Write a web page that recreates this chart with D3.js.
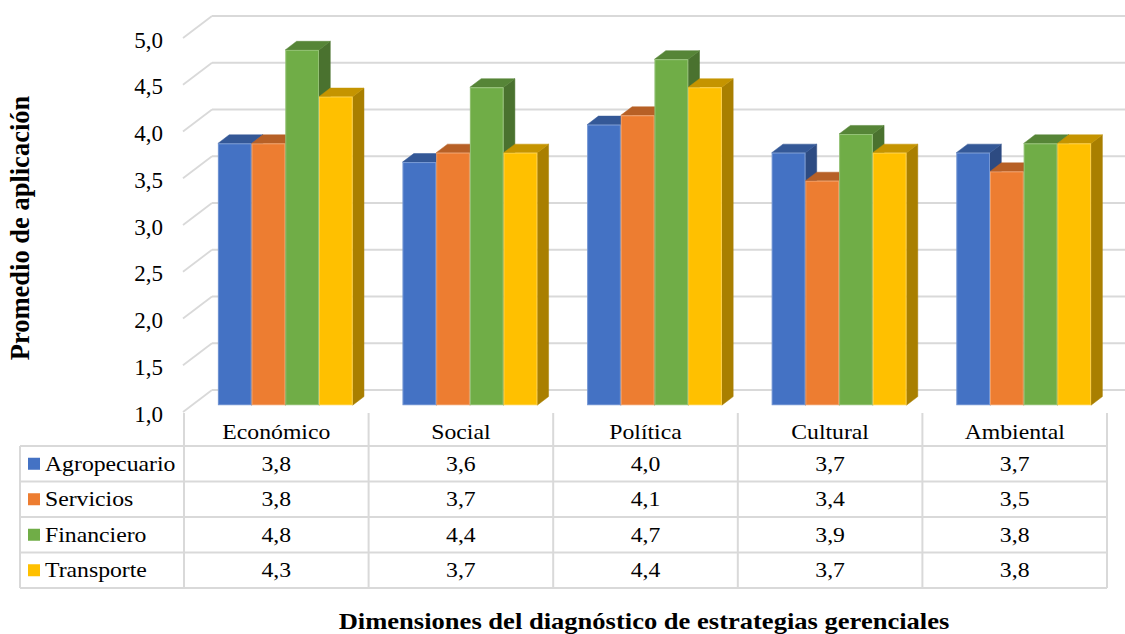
<!DOCTYPE html>
<html>
<head>
<meta charset="utf-8">
<script src="https://cdn.jsdelivr.net/npm/d3@7/dist/d3.min.js"></script>
<style>
  html, body { margin: 0; padding: 0; background: #fff; }
  svg { display: block; }
</style>
</head>
<body>
<svg id="chart" width="1125" height="634"></svg>
<script>
// Dimensions (categories) and sectors (series)
const categories = ["Económico", "Social", "Política", "Cultural", "Ambiental"];
const seriesNames = ["Agropecuario", "Servicios", "Financiero", "Transporte"];

// Average application score per sector, one value per dimension
const agropecuario = [3.8, 3.6, 4.0, 3.7, 3.7];
const servicios    = [3.8, 3.7, 4.1, 3.4, 3.5];
const financiero   = [4.8, 4.4, 4.7, 3.9, 3.8];
const transporte   = [4.3, 3.7, 4.4, 3.7, 3.8];

const yTicks = [1.0, 1.5, 2.0, 2.5, 3.0, 3.5, 4.0, 4.5, 5.0];
const seriesColors = ["#4472C4", "#ED7D31", "#70AD47", "#FFC000"];

const yTitle = "Promedio de aplicación";
const xTitle = "Dimensiones del diagnóstico de estrategias gerenciales";

const seriesValues = [agropecuario, servicios, financiero, transporte];

const FONT = "Liberation Serif, DejaVu Serif, Tinos, Times New Roman, serif";
const svg = d3.select("#chart");
const W = 1125;

// Front plane scales
const x = d3.scaleBand().domain(categories).range([184, 1107]).paddingInner(0).paddingOuter(0);
const y = d3.scaleLinear().domain([1, 5]).range([412, 38]);

// Oblique depth of the plot box (left wall -> back wall)
const DX = 29, DY = 22;
const f1 = 0.31, f2 = 0.70;            // bar front / back depth fractions
const groupFrac = 0.73;                // share of each band taken by the bar cluster
const xs = d3.scaleBand().domain(seriesNames).range([0, x.bandwidth() * groupFrac]);

const fmt = v => d3.format(".1f")(v).replace(".", ",");
const textScaleX = 1.13;

// helper: horizontally stretched text
function stretchedText(parent, str, tx, ty, anchor, size, weight) {
  return parent.append("text")
    .attr("transform", `translate(${tx},${ty}) scale(${textScaleX},1)`)
    .attr("text-anchor", anchor)
    .style("font-family", FONT)
    .style("font-size", size + "px")
    .style("font-weight", weight || "normal")
    .attr("fill", "#000")
    .text(str);
}

const gridColor = "#d9d9d9";

// ---- walls: gridlines on left wall and back wall ----
const grid = svg.append("g");
yTicks.forEach(t => {
  const x0 = x.range()[0] - 1;
  grid.append("line")
    .attr("x1", x0).attr("y1", y(t))
    .attr("x2", x0 + DX).attr("y2", y(t) - DY)
    .attr("stroke", gridColor).attr("stroke-width", 1.8);
  grid.append("line")
    .attr("x1", x0 + DX).attr("y1", y(t) - DY)
    .attr("x2", W).attr("y2", y(t) - DY)
    .attr("stroke", gridColor).attr("stroke-width", 1.8);
});

// ---- y axis tick labels ----
const yAxisG = svg.append("g");
yTicks.forEach(t => {
  yAxisG.append("text")
    .attr("x", 163).attr("y", y(t) + 9.5)
    .attr("text-anchor", "end")
    .style("font-family", FONT)
    .style("font-size", "23px")
    .attr("fill", "#000")
    .text(fmt(t));
});

// ---- 3D bars ----
const bars = svg.append("g");
const dd = (f2 - f1) * DX, ddy = (f2 - f1) * DY;
categories.forEach((c, ci) => {
  const start = x(c) + (x.bandwidth() * (1 - groupFrac)) / 2 + f1 * DX;
  seriesNames.forEach((s, si) => {
    const v = seriesValues[si][ci];
    const base = d3.color(seriesColors[si]);
    const x0 = start + xs(s), x1 = x0 + xs.bandwidth();
    const yt = y(v) - f1 * DY, yb = y(1) - f1 * DY;
    const g = bars.append("g");
    // right side face
    g.append("path")
      .attr("d", `M${x1},${yt}L${x1 + dd},${yt - ddy}L${x1 + dd},${yb - ddy}L${x1},${yb}Z`)
      .attr("fill", base.darker(1.16))
      .attr("stroke", base.darker(1.16)).attr("stroke-width", 0.5);
    // top face
    g.append("path")
      .attr("d", `M${x0},${yt}L${x1},${yt}L${x1 + dd},${yt - ddy}L${x0 + dd},${yt - ddy}Z`)
      .attr("fill", base.darker(0.73))
      .attr("stroke", base.darker(0.73)).attr("stroke-width", 0.5);
    // front face
    g.append("rect")
      .attr("x", x0).attr("y", yt)
      .attr("width", xs.bandwidth()).attr("height", yb - yt)
      .attr("fill", base.formatHex());
    g.append("rect")
      .attr("x", x0 + 0.5).attr("y", yt + 0.5)
      .attr("width", xs.bandwidth() - 1).attr("height", yb - yt - 1)
      .attr("fill", "none").attr("stroke", "#ffffff").attr("stroke-opacity", 0.25).attr("stroke-width", 1);
  });
});

// ---- data table ----
const rowY = d3.scaleBand().domain(seriesNames).range([446, 588]);
const table = svg.append("g");
const tableLeft = 20, tableRight = x.range()[1];
const lineW = 2;

// vertical column lines
const colEdges = categories.map(c => x(c)).concat([tableRight]);
colEdges.forEach(cx => {
  table.append("line")
    .attr("x1", cx).attr("y1", y(1) + 1).attr("x2", cx).attr("y2", rowY.range()[1])
    .attr("stroke", gridColor).attr("stroke-width", lineW);
});
table.append("line")
  .attr("x1", tableLeft).attr("y1", rowY.range()[0]).attr("x2", tableLeft).attr("y2", rowY.range()[1])
  .attr("stroke", gridColor).attr("stroke-width", lineW);
// horizontal row lines
seriesNames.forEach(s => {
  table.append("line")
    .attr("x1", tableLeft).attr("y1", rowY(s)).attr("x2", tableRight).attr("y2", rowY(s))
    .attr("stroke", gridColor).attr("stroke-width", lineW);
});
table.append("line")
  .attr("x1", tableLeft).attr("y1", rowY.range()[1]).attr("x2", tableRight).attr("y2", rowY.range()[1])
  .attr("stroke", gridColor).attr("stroke-width", lineW);

// header: category names
categories.forEach(c => {
  stretchedText(table, c, x(c) + x.bandwidth() / 2, 439, "middle", 21);
});

// rows: legend key, series name, values
seriesNames.forEach((s, si) => {
  const cy = rowY(s) + rowY.bandwidth() / 2;
  table.append("rect")
    .attr("x", 28).attr("y", cy - 6).attr("width", 12).attr("height", 12)
    .attr("fill", seriesColors[si]);
  stretchedText(table, s, 45, cy + 7, "start", 21);
  categories.forEach((c, ci) => {
    stretchedText(table, fmt(seriesValues[si][ci]), x(c) + x.bandwidth() / 2, cy + 7, "middle", 21);
  });
});

// ---- axis titles ----
svg.append("text")
  .attr("transform", `translate(29,228) rotate(-90)`)
  .attr("text-anchor", "middle")
  .style("font-family", FONT)
  .style("font-size", "26.5px")
  .style("font-weight", "bold")
  .attr("fill", "#000")
  .text(yTitle);

stretchedText(svg, xTitle, 644, 629, "middle", 23.5, "bold");
</script>
</body>
</html>
